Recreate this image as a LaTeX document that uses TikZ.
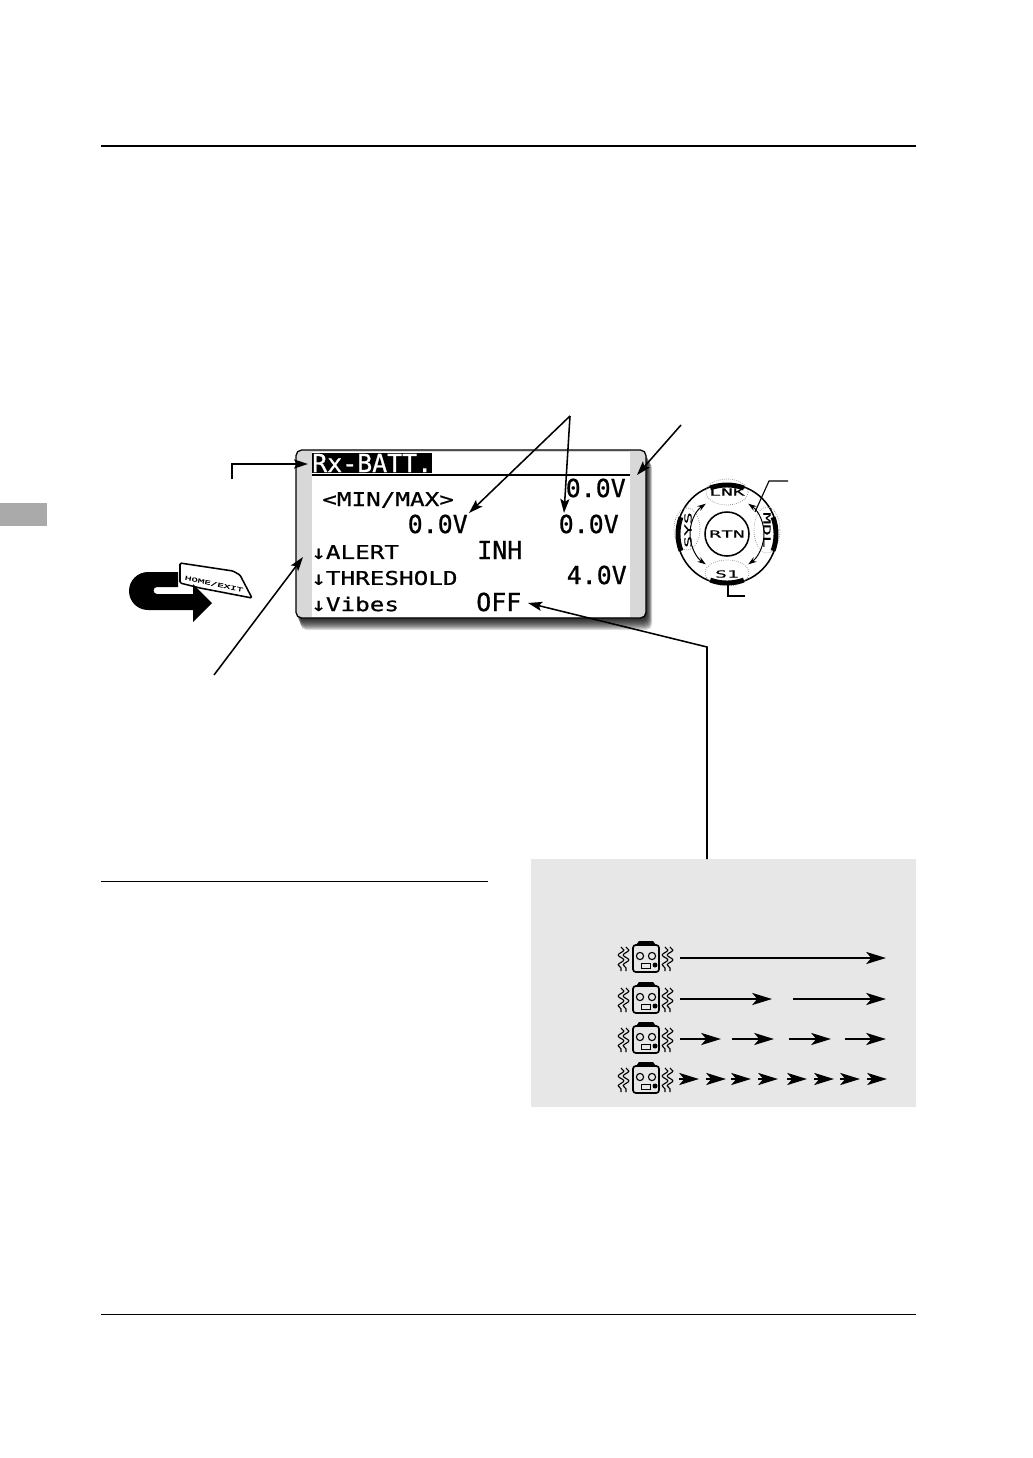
\documentclass[tikz,border=0pt]{standalone}
\usepackage{fontspec}
\usepackage{xcolor}
\usetikzlibrary{arrows.meta}
\usetikzlibrary{decorations.pathmorphing}
\newfontfamily\lcdfont[FakeBold=0.8]{DejaVu Sans Mono}
\newfontfamily\lcdwide[FakeStretch=1.28,FakeBold=0.8]{DejaVu Sans Mono}
\newfontfamily\dialfont[FakeStretch=2,FakeBold=0.3]{DejaVu Sans Mono}
\definecolor{mygrey}{RGB}{231,231,231}
\definecolor{mybar}{RGB}{216,216,216}
\definecolor{mytab}{RGB}{170,170,170}
\tikzset{
lcdtext/.style={inner sep=0,font=\lcdfont\fontsize{17.7}{18}\selectfont},
lcdsmall/.style={inner sep=0,font=\lcdwide\fontsize{13.5}{14}\selectfont},
dialtext/.style={inner sep=0,font=\dialfont\fontsize{7}{8}\selectfont},
callout/.style={-{Stealth[length=10pt,width=6.5pt,inset=2pt]},line width=1.1pt},
leader/.style={line width=0.8pt},
flow/.style={-{Stealth[length=14pt,width=8.5pt,inset=3.5pt]},line width=2pt},
zone/.style={gray,densely dotted,line width=0.5pt},
dialarrow/.style={{Stealth[length=6pt,width=4pt]}-{Stealth[length=6pt,width=4pt]},line width=0.7pt},
}
\begin{document}
\begin{tikzpicture}[x=0.025cm,y=-0.025cm]
\useasboundingbox (0,0) rectangle (1032,1458);

\draw[line width=2.1pt] (101,146) -- (916,146);
\draw[line width=0.7pt] (101,1314) -- (916,1314);
\draw[line width=0.7pt] (101,881.5) -- (488,881.5);
\fill[mytab] (0,503) rectangle (47,526);
\fill[mygrey] (531,859) rectangle (916,1107);

%screen
\foreach \s in {1,2,...,12}{
\fill[black,opacity=0.13,rounded corners=4pt] (296+0.4*\s,450+\s) rectangle (646+0.5*\s,618+\s);
}
\draw[line width=0.9pt,fill=mybar,rounded corners=4pt] (296,450) rectangle (646,618);
\fill[white] (312,452) rectangle (630,617);
\fill[black] (312,453) rectangle (432,473);
\draw[line width=1.1pt] (312,475) -- (630,475);

\node[lcdtext,anchor=west,text=white] (title) at (312,463) {Rx-BATT.};
\node[lcdtext,anchor=east] (volt) at (626,488) {0.0V};
\node[lcdsmall,anchor=west] (minmax) at (322,500) {<MIN/MAX>};
\node[lcdtext,anchor=east] (minval) at (468,524) {0.0V};
\node[lcdtext,anchor=east] (maxval) at (619,524) {0.0V};
\node[lcdsmall,anchor=west] (alert) at (311,552) {↓ALERT};
\node[lcdtext,anchor=west] (inh) at (477,550) {INH};
\node[lcdsmall,anchor=west] (threshold) at (311,578) {↓THRESHOLD};
\node[lcdtext,anchor=east] (thrval) at (627,575) {4.0V};
\node[lcdsmall,anchor=west] (vibes) at (311,604) {↓Vibes};
\node[lcdtext,anchor=west] (off) at (476,602) {OFF};

%callouts
\coordinate (top) at (570,416);
\coordinate (minend) at (469,513);
\coordinate (maxend) at (564,513);
\coordinate (voltstart) at (681,425);
\coordinate (voltend) at (637,475);
\coordinate (titlestart) at (232,479);
\coordinate (titlebend) at (232,464);
\coordinate (titleend) at (308,464);
\coordinate (barstart) at (214,675);
\coordinate (barend) at (303,557);
\coordinate (offstart) at (707,859);
\coordinate (offbend) at (707,647);
\coordinate (offend) at (528,603);
\draw[callout] (top) -- (minend);
\draw[callout] (top) -- (maxend);
\draw[callout] (voltstart) -- (voltend);
\draw[callout] (titlestart) -- (titlebend) -- (titleend);
\draw[callout] (barstart) -- (barend);
\draw[callout] (offstart) -- (offbend) -- (offend);

%dial
\begin{scope}[shift={(727,534)}]
\draw[line width=1.1pt] (0,0) circle[radius=50];
\draw[line width=1.1pt] (0,0) circle[radius=22];
\draw[zone] (0,-42) ellipse[x radius=21,y radius=13];
\draw[zone] (0,39) ellipse[x radius=22,y radius=13];
\draw[zone] (-40,-5) ellipse[x radius=13,y radius=21];
\draw[zone] (40,-4) ellipse[x radius=13,y radius=23];
\foreach \a/\b in {250/290,70/110,160/200,-20/20}{
\draw[line width=3.5pt] (\a:49) arc[start angle=\a,end angle=\b,radius=49];
}
\draw[dialarrow] (235:37) arc[start angle=235,end angle=125,radius=37];
\draw[dialarrow] (-55:37) arc[start angle=-55,end angle=55,radius=37];
\node[dialtext] (rtn) at (0,0) {RTN};
\node[dialtext] (lnk) at (0,-42) {LNK};
\node[dialtext] (sone) at (0,40) {S1};
\node[dialtext,rotate=90] (sys) at (-39,-4) {SYS};
\node[dialtext,rotate=-90] (mdl) at (40,-4) {MDL};
\coordinate (mdlstart) at (61,-53);
\coordinate (mdlbend) at (42,-53);
\coordinate (mdlend) at (28,-22);
\coordinate (sonestart) at (18,62);
\coordinate (sonebend) at (1,62);
\coordinate (soneend) at (1,51);
\draw[leader] (mdlstart) -- (mdlbend) -- (mdlend);
\draw[leader] (sonestart) -- (sonebend) -- (soneend);
\end{scope}

%home exit
\draw[line width=1.1pt,fill=white,rounded corners=1pt] (180,563) -- (233,571) -- (240,575) -- (252,598) -- (200,588) -- (180,583) -- cycle;
\node[inner sep=0,rotate=-12,font=\dialfont\fontsize{3.9}{5}\selectfont] (home) at (214,584) {HOME/EXIT};
\fill[black] (178,572) -- (148,572) arc[start angle=-90,end angle=-180,radius=19] -- (129,591) arc[start angle=180,end angle=90,radius=19] -- (193,610) -- (193,622) -- (212,603) -- (193,584) -- (193,594) -- (157,594) arc[start angle=90,end angle=270,radius=3.5] -- (178,587) -- cycle;

%vibration rows
\foreach \row in {958,999,1039,1079}{
\begin{scope}[shift={(646,\row)}]
\draw[line width=1.2pt,rounded corners=2pt] (-13,-13) rectangle (13,14);
\fill[black] (-10,-13) -- (-7,-17) -- (7,-17) -- (10,-13) -- cycle;
\draw[line width=0.8pt] (-6,-2) circle[radius=3.6];
\draw[line width=0.8pt] (6,-2) circle[radius=3.6];
\draw[line width=0.7pt] (-5,5) rectangle (4,10);
\fill[black] (9,7) circle[radius=2.5];
\foreach \x in {-25,-20,19,24}{
\draw[line width=0.8pt,decorate,decoration={snake,segment length=7,amplitude=2}] (\x,-11) -- (\x,13);
}
\end{scope}
}
\draw[flow] (680,958) -- (886,958);
\foreach \a/\b in {680/772,793/886}{
\draw[flow] (\a,999) -- (\b,999);
}
\foreach \a/\b in {680/721,732/774,789/831,845/886}{
\draw[flow] (\a,1039) -- (\b,1039);
}
\foreach \a in {679,706,731,758,787,814,840,867}{
\draw[flow] (\a,1079) -- (\a+20,1079);
}
\end{tikzpicture}
\end{document}
